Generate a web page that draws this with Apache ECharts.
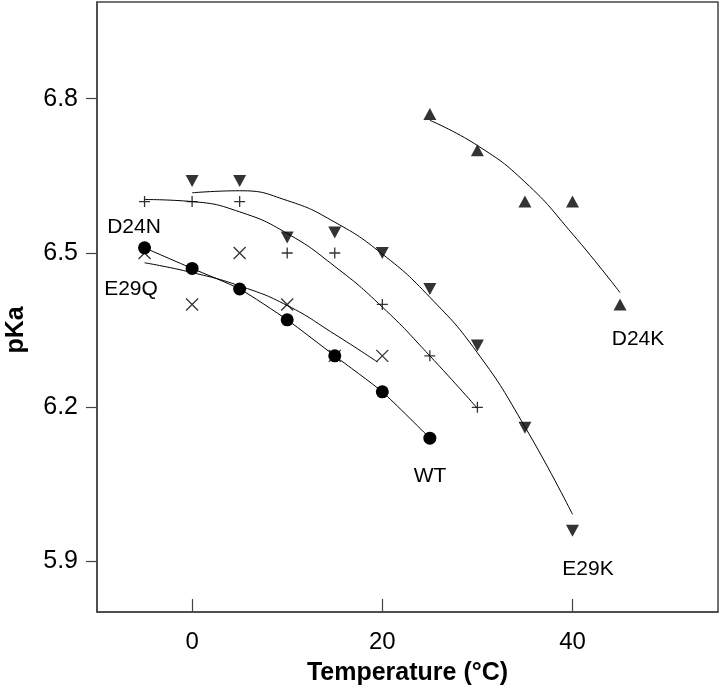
<!DOCTYPE html>
<html>
<head>
<meta charset="utf-8">
<script src="https://cdn.jsdelivr.net/npm/echarts@6/dist/echarts.min.js"></script>
<style>html,body{margin:0;padding:0;background:#fff}#c{width:720px;height:691px}</style>
</head>
<body>
<div id="c"></div>
<script>
// ---- data ----
const xTicks = [0, 20, 40];
const yTicks = [5.9, 6.2, 6.5, 6.8];

// WT (filled circles, joined)
const wtT  = [-5, 0, 5, 10, 15, 20, 25];
const wtPk = [6.51, 6.47, 6.43, 6.37, 6.30, 6.23, 6.14];

// E29Q (x marks) and its fitted curve
const e29qT  = [-5, 0, 5, 10, 15, 20];
const e29qPk = [6.50, 6.40, 6.50, 6.40, 6.30, 6.30];
const e29qFitT  = [-5, 0, 5, 10, 15, 19.5];
const e29qFitPk = [6.481, 6.462, 6.436, 6.398, 6.342, 6.288];

// D24N (+ marks) and its fitted curve
const d24nT  = [-5, 0, 5, 10, 15, 20, 25, 30];
const d24nPk = [6.60, 6.60, 6.60, 6.50, 6.50, 6.40, 6.30, 6.20];
const d24nFitT  = [-5, 0, 5, 10, 15, 20, 25, 30];
const d24nFitPk = [6.604, 6.600, 6.580, 6.538, 6.474, 6.395, 6.300, 6.198];

// E29K (inverted triangles) and its fitted curve
const e29kT  = [0, 5, 10, 15, 20, 25, 30, 35, 40];
const e29kPk = [6.64, 6.64, 6.53, 6.54, 6.50, 6.43, 6.32, 6.16, 5.96];
const e29kFitT  = [0, 5, 10, 15, 20, 25, 30, 35, 40];
const e29kFitPk = [6.617, 6.621, 6.602, 6.560, 6.498, 6.414, 6.306, 6.162, 5.992];

// D24K (triangles) and its fitted curve
const d24kT  = [25, 30, 35, 40, 45];
const d24kPk = [6.77, 6.70, 6.60, 6.60, 6.40];
const d24kFitT  = [25, 30, 35, 40, 45];
const d24kFitPk = [6.758, 6.709, 6.638, 6.537, 6.423];

// curve labels
const labelTexts = ['D24N', 'E29Q', 'WT', 'E29K', 'D24K'];

const zip = (a, b) => a.map((v, i) => [v, b[i]]);
const FONT = '"Liberation Sans", Arial, Helvetica, sans-serif';

const chart = echarts.init(document.getElementById('c'), null, {renderer: 'canvas'});

const fitLine = (name, t, p) => ({
  name, type: 'line', data: zip(t, p), smooth: 0.5, showSymbol: false, symbol: 'none',
  lineStyle: {color: '#000', width: 1}, z: 2, silent: true
});

const plusPath = 'path://M0,5L10,5M5,0L5,10';
const crossPath = 'path://M0,0L10,10M10,0L0,10';

const labelPos = [[134, 227], [131, 289], [430, 476], [588, 569], [638, 339]];

chart.setOption({
  animation: false,
  grid: {left: 97, right: 2, top: 2, bottom: 72, show: true, borderColor: '#444', borderWidth: 1.5, backgroundColor: '#fff'},
  xAxis: {
    type: 'value', min: -10, max: 55.3,
    name: 'Temperature (°C)', nameLocation: 'middle', nameGap: 49,
    nameTextStyle: {fontFamily: FONT, fontSize: 25, fontWeight: 'bold', color: '#000'},
    axisLine: {show: true, onZero: false, lineStyle: {color: '#444', width: 1.5}},
    axisTick: {show: true, inside: true, length: 13, customValues: xTicks, lineStyle: {color: '#444', width: 1.2}},
    axisLabel: {customValues: xTicks, margin: 18, fontFamily: FONT, fontSize: 24, color: '#000'},
    splitLine: {show: false}
  },
  yAxis: {
    type: 'value', min: 5.802, max: 6.988,
    axisLine: {show: true, onZero: false, lineStyle: {color: '#444', width: 1.5}},
    axisTick: {show: true, inside: false, length: 11, customValues: yTicks, lineStyle: {color: '#444', width: 1.2}},
    axisLabel: {customValues: yTicks, margin: 19, fontFamily: FONT, fontSize: 25, color: '#000',
      formatter: v => v.toFixed(1)},
    splitLine: {show: false}
  },
  graphic: [
    {type: 'text', x: 16, y: 330, rotation: Math.PI / 2,
      style: {text: 'pKa', font: 'bold 25px ' + FONT, fill: '#000', textAlign: 'center', textVerticalAlign: 'middle'}},
  ].concat(labelTexts.map((t, i) => ({
    type: 'text', x: labelPos[i][0], y: labelPos[i][1],
    style: {text: t, font: '21px ' + FONT, fill: '#000', textAlign: 'center', textVerticalAlign: 'middle'}
  }))),
  series: [
    fitLine('E29Q fit', e29qFitT, e29qFitPk),
    fitLine('D24N fit', d24nFitT, d24nFitPk),
    fitLine('E29K fit', e29kFitT, e29kFitPk),
    fitLine('D24K fit', d24kFitT, d24kFitPk),
    {name: 'WT', type: 'line', data: zip(wtT, wtPk), smooth: 0.2, symbol: 'circle', symbolSize: 13,
      showAllSymbol: true, itemStyle: {color: '#000'}, lineStyle: {color: '#000', width: 1}, z: 4},
    {name: 'E29Q', type: 'scatter', data: zip(e29qT, e29qPk), symbol: crossPath, symbolSize: 12,
      itemStyle: {color: 'none', borderColor: '#000', borderWidth: 1.3}, z: 3},
    {name: 'D24N', type: 'scatter', data: zip(d24nT, d24nPk), symbol: plusPath, symbolSize: 11,
      itemStyle: {color: 'none', borderColor: '#000', borderWidth: 1.3}, z: 3},
    {name: 'E29K', type: 'scatter', data: zip(e29kT, e29kPk), symbol: 'triangle', symbolRotate: 180, symbolSize: [13, 12],
      itemStyle: {color: '#000'}, z: 3},
    {name: 'D24K', type: 'scatter', data: zip(d24kT, d24kPk), symbol: 'triangle', symbolSize: [13, 12],
      itemStyle: {color: '#000'}, z: 3}
  ]
});
</script>
</body>
</html>
